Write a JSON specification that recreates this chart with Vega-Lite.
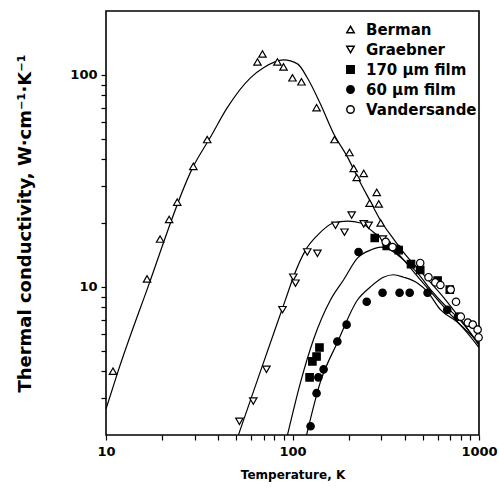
{
  "$schema": "https://vega.github.io/schema/vega-lite/v6.json",
  "width": 373,
  "height": 424,
  "autosize": {"type": "none"},
  "padding": {"left": 106, "top": 11, "right": 20, "bottom": 54},
  "background": "white",
  "config": {
    "font": "DejaVu Sans",
    "view": {"stroke": "black", "strokeWidth": 1.6},
    "axis": {"domain": false, "grid": false, "labelColor": "black", "titleColor": "black", "labelFlush": false, "labelFontWeight": "bold", "titleFontWeight": "bold"}
  },
  "datasets": {
    "points": [
      {"series": "Berman", "T": 10.9, "k": 4.0},
      {"series": "Berman", "T": 16.6, "k": 10.9},
      {"series": "Berman", "T": 19.5, "k": 16.8},
      {"series": "Berman", "T": 21.8, "k": 20.8},
      {"series": "Berman", "T": 24.1, "k": 25.1},
      {"series": "Berman", "T": 29.4, "k": 37.0},
      {"series": "Berman", "T": 34.9, "k": 49.5},
      {"series": "Berman", "T": 64.9, "k": 115},
      {"series": "Berman", "T": 69.0, "k": 125.5},
      {"series": "Berman", "T": 83.0, "k": 115},
      {"series": "Berman", "T": 89.5, "k": 109},
      {"series": "Berman", "T": 100, "k": 96.8},
      {"series": "Berman", "T": 111.7, "k": 92.7},
      {"series": "Berman", "T": 134.6, "k": 70.0},
      {"series": "Berman", "T": 168, "k": 49.5},
      {"series": "Berman", "T": 202, "k": 43.0},
      {"series": "Berman", "T": 213, "k": 36.2},
      {"series": "Berman", "T": 221, "k": 32.8},
      {"series": "Berman", "T": 241, "k": 34.3},
      {"series": "Berman", "T": 259, "k": 24.8},
      {"series": "Berman", "T": 283, "k": 27.9},
      {"series": "Berman", "T": 290, "k": 24.6},
      {"series": "Berman", "T": 297, "k": 20.0},
      {"series": "Graebner", "T": 51.9, "k": 2.32},
      {"series": "Graebner", "T": 61.6, "k": 2.89},
      {"series": "Graebner", "T": 72.5, "k": 4.08},
      {"series": "Graebner", "T": 88.4, "k": 7.8},
      {"series": "Graebner", "T": 101, "k": 11.1},
      {"series": "Graebner", "T": 103.8, "k": 10.4},
      {"series": "Graebner", "T": 120, "k": 14.6},
      {"series": "Graebner", "T": 136, "k": 14.4},
      {"series": "Graebner", "T": 170, "k": 19.5},
      {"series": "Graebner", "T": 190, "k": 18.1},
      {"series": "Graebner", "T": 207.6, "k": 21.8},
      {"series": "Graebner", "T": 241, "k": 19.8},
      {"series": "Graebner", "T": 256, "k": 19.5},
      {"series": "Graebner", "T": 305, "k": 16.8},
      {"series": "170 μm film", "T": 123.5, "k": 3.74},
      {"series": "170 μm film", "T": 127.8, "k": 4.45},
      {"series": "170 μm film", "T": 134.6, "k": 4.69},
      {"series": "170 μm film", "T": 139.5, "k": 5.17},
      {"series": "170 μm film", "T": 276, "k": 17.0},
      {"series": "170 μm film", "T": 320, "k": 15.6},
      {"series": "170 μm film", "T": 371, "k": 14.9},
      {"series": "170 μm film", "T": 432, "k": 12.8},
      {"series": "170 μm film", "T": 484, "k": 12.0},
      {"series": "170 μm film", "T": 600, "k": 10.7},
      {"series": "170 μm film", "T": 697, "k": 9.7},
      {"series": "60 μm film", "T": 125, "k": 2.2},
      {"series": "60 μm film", "T": 134.6, "k": 3.15},
      {"series": "60 μm film", "T": 137.6, "k": 3.74},
      {"series": "60 μm film", "T": 146.8, "k": 4.08},
      {"series": "60 μm film", "T": 174, "k": 5.52},
      {"series": "60 μm film", "T": 195, "k": 6.63},
      {"series": "60 μm film", "T": 250, "k": 8.5},
      {"series": "60 μm film", "T": 304, "k": 9.37},
      {"series": "60 μm film", "T": 375, "k": 9.37},
      {"series": "60 μm film", "T": 425, "k": 9.37},
      {"series": "60 μm film", "T": 530, "k": 9.37},
      {"series": "60 μm film", "T": 676, "k": 7.8},
      {"series": "60 μm film", "T": 770, "k": 7.23},
      {"series": "60 μm film", "T": 226, "k": 14.6},
      {"series": "60 μm film", "T": 366, "k": 15.1},
      {"series": "Vandersande", "T": 316, "k": 16.3},
      {"series": "Vandersande", "T": 344, "k": 15.4},
      {"series": "Vandersande", "T": 484, "k": 12.96},
      {"series": "Vandersande", "T": 536, "k": 11.1},
      {"series": "Vandersande", "T": 583, "k": 10.5},
      {"series": "Vandersande", "T": 621, "k": 10.2},
      {"series": "Vandersande", "T": 705, "k": 9.7},
      {"series": "Vandersande", "T": 753, "k": 8.5},
      {"series": "Vandersande", "T": 799, "k": 7.23},
      {"series": "Vandersande", "T": 871, "k": 6.78},
      {"series": "Vandersande", "T": 926, "k": 6.63},
      {"series": "Vandersande", "T": 983, "k": 6.28},
      {"series": "Vandersande", "T": 995, "k": 5.77}
    ],
    "curves": [
      {"curve": "Berman", "T": 10, "k": 2.65},
      {"curve": "Berman", "T": 11.6, "k": 3.99},
      {"curve": "Berman", "T": 16.6, "k": 9.7},
      {"curve": "Berman", "T": 29.4, "k": 37.0},
      {"curve": "Berman", "T": 36.2, "k": 50.6},
      {"curve": "Berman", "T": 44.7, "k": 70},
      {"curve": "Berman", "T": 59.5, "k": 96.8},
      {"curve": "Berman", "T": 69.9, "k": 107.9},
      {"curve": "Berman", "T": 89.5, "k": 117.5},
      {"curve": "Berman", "T": 106.4, "k": 112.6},
      {"curve": "Berman", "T": 120, "k": 96.8},
      {"curve": "Berman", "T": 141, "k": 73},
      {"curve": "Berman", "T": 166, "k": 52.9},
      {"curve": "Berman", "T": 197.6, "k": 40.8},
      {"curve": "Berman", "T": 223.5, "k": 32.8},
      {"curve": "Berman", "T": 260, "k": 25.5},
      {"curve": "Berman", "T": 297, "k": 20.5},
      {"curve": "Berman", "T": 340, "k": 17.3},
      {"curve": "Berman", "T": 400, "k": 14.3},
      {"curve": "Berman", "T": 500, "k": 11.5},
      {"curve": "Berman", "T": 647, "k": 8.9},
      {"curve": "Berman", "T": 800, "k": 7.0},
      {"curve": "Berman", "T": 1000, "k": 5.3},
      {"curve": "Graebner", "T": 51.3, "k": 2.0},
      {"curve": "Graebner", "T": 67.3, "k": 3.99},
      {"curve": "Graebner", "T": 91.7, "k": 8.7},
      {"curve": "Graebner", "T": 101, "k": 11.1},
      {"curve": "Graebner", "T": 117.5, "k": 14.9},
      {"curve": "Graebner", "T": 136, "k": 17.5},
      {"curve": "Graebner", "T": 166, "k": 20.0},
      {"curve": "Graebner", "T": 197.6, "k": 20.4},
      {"curve": "Graebner", "T": 232, "k": 20.0},
      {"curve": "Graebner", "T": 272, "k": 18.1},
      {"curve": "Graebner", "T": 324, "k": 16.1},
      {"curve": "Graebner", "T": 394, "k": 13.4},
      {"curve": "Graebner", "T": 484, "k": 10.8},
      {"curve": "Graebner", "T": 600, "k": 8.69},
      {"curve": "Graebner", "T": 705, "k": 7.39},
      {"curve": "Graebner", "T": 1000, "k": 5.46},
      {"curve": "170", "T": 94, "k": 2.0},
      {"curve": "170", "T": 110.5, "k": 3.55},
      {"curve": "170", "T": 129.6, "k": 5.64},
      {"curve": "170", "T": 160, "k": 8.69},
      {"curve": "170", "T": 188, "k": 10.8},
      {"curve": "170", "T": 223.5, "k": 13.7},
      {"curve": "170", "T": 262, "k": 14.9},
      {"curve": "170", "T": 297, "k": 15.4},
      {"curve": "170", "T": 336, "k": 14.9},
      {"curve": "170", "T": 394, "k": 13.4},
      {"curve": "170", "T": 469, "k": 11.6},
      {"curve": "170", "T": 550, "k": 9.7},
      {"curve": "170", "T": 676, "k": 7.97},
      {"curve": "170", "T": 770, "k": 7.15},
      {"curve": "170", "T": 1000, "k": 5.34},
      {"curve": "60", "T": 119, "k": 2.0},
      {"curve": "60", "T": 141, "k": 3.55},
      {"curve": "60", "T": 174, "k": 5.46},
      {"curve": "60", "T": 223.5, "k": 8.69},
      {"curve": "60", "T": 262, "k": 10.0},
      {"curve": "60", "T": 307, "k": 11.1},
      {"curve": "60", "T": 348, "k": 11.4},
      {"curve": "60", "T": 394, "k": 11.1},
      {"curve": "60", "T": 469, "k": 10.4},
      {"curve": "60", "T": 530, "k": 9.47},
      {"curve": "60", "T": 621, "k": 7.8},
      {"curve": "60", "T": 770, "k": 6.78},
      {"curve": "60", "T": 1000, "k": 5.17}
    ]
  },
  "layer": [
    {
      "data": {"name": "curves"},
      "mark": {"type": "line", "color": "black", "strokeWidth": 1.2, "interpolate": "monotone", "clip": true},
      "encoding": {
        "x": {"field": "T", "type": "quantitative", "scale": {"type": "log", "domain": [10, 1000]},
          "axis": {"orient": "bottom", "values": [10, 20, 30, 40, 50, 60, 70, 80, 90, 100, 200, 300, 400, 500, 600, 700, 800, 900, 1000],
            "labelExpr": "datum.value == 10 || datum.value == 100 || datum.value == 1000 ? format(datum.value, 'd') : ''",
            "tickColor": "black", "tickWidth": 1.2, "tickSize": 5,
            "labelFontSize": 13, "labelPadding": 5, "title": "Temperature, K", "titleFontSize": 12, "titlePadding": 11}},
        "y": {"field": "k", "type": "quantitative", "scale": {"type": "log", "domain": [2, 200]},
          "axis": {"orient": "left", "values": [3, 4, 5, 6, 7, 8, 9, 10, 20, 30, 40, 50, 60, 70, 80, 90, 100],
            "labelExpr": "datum.value == 10 || datum.value == 100 ? format(datum.value, 'd') : ''",
            "tickColor": "black", "tickWidth": 1.2, "tickSize": 5,
            "labelFontSize": 13, "labelPadding": 4, "title": "Thermal conductivity, W·cm⁻¹·K⁻¹", "titleFontSize": 18, "titlePadding": 35}},
        "detail": {"field": "curve"}
      }
    },
    {
      "data": {"name": "points"},
      "mark": {"type": "point", "filled": true, "stroke": "black", "strokeWidth": 1.2, "opacity": 1, "size": 55},
      "encoding": {
        "x": {"field": "T", "type": "quantitative", "scale": {"type": "log", "domain": [10, 1000]}},
        "y": {"field": "k", "type": "quantitative", "scale": {"type": "log", "domain": [2, 200]}},
        "shape": {"field": "series", "type": "nominal",
          "scale": {"domain": ["Berman", "Graebner", "170 μm film", "60 μm film", "Vandersande"], "range": ["triangle-up", "triangle-down", "square", "circle", "circle"]},
          "legend": {"title": null, "orient": "none", "legendX": 237, "legendY": 11, "labelFontSize": 15, "labelFontWeight": "bold", "labelColor": "black", "labelOffset": 8, "rowPadding": 4, "symbolSize": 55, "padding": 0,
            "encode": {"symbols": {"update": {"stroke": {"value": "black"}, "strokeWidth": {"value": 1.2}}}}}},
        "fill": {"field": "series", "type": "nominal",
          "scale": {"domain": ["Berman", "Graebner", "170 μm film", "60 μm film", "Vandersande"], "range": ["white", "white", "black", "black", "white"]},
          "legend": {"title": null, "orient": "none", "legendX": 237, "legendY": 11, "labelFontSize": 15, "labelFontWeight": "bold", "labelColor": "black", "labelOffset": 8, "rowPadding": 4, "symbolSize": 55, "padding": 0,
            "encode": {"symbols": {"update": {"stroke": {"value": "black"}, "strokeWidth": {"value": 1.2}}}}}}
      }
    }
  ]
}
